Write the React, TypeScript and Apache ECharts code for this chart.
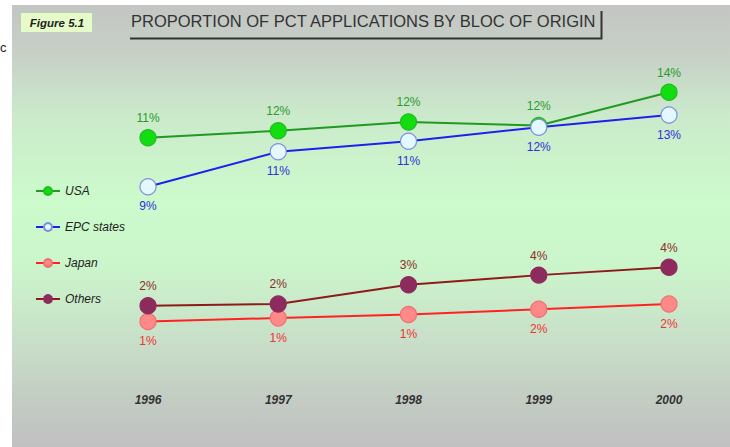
import React, { useEffect, useRef } from "react";
import * as echarts from "echarts";

const years = ["1996", "1997", "1998", "1999", "2000"];
const usa = [11.4, 11.8, 12.3, 12.1, 14.0];
const epc = [8.6, 10.6, 11.2, 12.0, 12.7];
const japan = [0.9, 1.1, 1.3, 1.6, 1.9];
const others = [1.8, 1.9, 3.0, 3.55, 4.0];

const titleText = "PROPORTION OF PCT APPLICATIONS BY BLOC OF ORIGIN";
const figureText = "Figure 5.1";

const pct = (p: any) => Math.round(p.value) + "%";

export default function App() {
  const ref = useRef<HTMLDivElement>(null);
  useEffect(() => {
    document.body.style.margin = "0";
    const chart = echarts.init(ref.current!, null, { renderer: "svg" });
    const mk = (
      name: string,
      data: number[],
      line: string,
      fill: string,
      border: string,
      labelColor: string,
      pos: "top" | "bottom"
    ) => ({
      name,
      type: "line",
      data,
      symbol: "circle",
      symbolSize: 16,
      lineStyle: { color: line, width: 2 },
      itemStyle: { color: fill, borderColor: border, borderWidth: 1.2 },
      label: {
        show: true,
        position: pos,
        distance: 5,
        formatter: pct,
        color: labelColor,
        fontSize: 12,
        fontFamily: "Liberation Sans, Arial, sans-serif",
      },
      emphasis: { disabled: true },
    });
    chart.setOption({
      animation: false,
      backgroundColor: "#ffffff",
      graphic: [
        {
          type: "rect",
          shape: { x: 12, y: 5, width: 718, height: 442 },
          z: -10,
          style: {
            fill: new echarts.graphic.LinearGradient(0, 0, 0, 1, [
              { offset: 0, color: "#c3c6c3" },
              { offset: 0.1, color: "#c6cec6" },
              { offset: 0.25, color: "#cbeacb" },
              { offset: 0.45, color: "#ccfbcc" },
              { offset: 0.6, color: "#cbf4cb" },
              { offset: 0.78, color: "#c8dcc8" },
              { offset: 0.9, color: "#c3cbc3" },
              { offset: 1, color: "#c0c0c0" },
            ]),
          },
        },
        {
          type: "text",
          x: 0,
          y: 41,
          style: { text: "c", fontSize: 13, fill: "#222", fontFamily: "Liberation Sans, Arial, sans-serif" },
        },
        {
          type: "rect",
          shape: { x: 21, y: 13, width: 71, height: 19 },
          style: { fill: "#e6fcc8" },
        },
        {
          type: "text",
          x: 57,
          y: 22.5,
          style: {
            text: figureText,
            align: "center",
            verticalAlign: "middle",
            fontSize: 11.5,
            fontStyle: "italic",
            fontWeight: "bold",
            fill: "#222",
            fontFamily: "Liberation Sans, Arial, sans-serif",
          },
        },
        {
          type: "text",
          x: 131,
          y: 21,
          style: {
            text: titleText,
            verticalAlign: "middle",
            fontSize: 16.5,
            fill: "#333",
            fontFamily: "Liberation Sans, Arial, sans-serif",
          },
        },
        {
          type: "polyline",
          shape: { points: [[130, 38.5], [601.5, 38.5], [601.5, 11]] },
          style: { stroke: "#333", lineWidth: 2, fill: null },
        },
      ],
      legend: {
        orient: "vertical",
        left: 30,
        top: 180,
        itemWidth: 24,
        itemHeight: 10,
        itemGap: 24,
        textStyle: {
          fontSize: 12,
          fontStyle: "italic",
          color: "#222",
          fontFamily: "Liberation Sans, Arial, sans-serif",
        },
        data: ["USA", "EPC states", "Japan", "Others"],
      },
      grid: { left: 148, right: 61, top: 57.25, height: 280 },
      xAxis: {
        type: "category",
        data: years,
        boundaryGap: false,
        axisLine: { show: false },
        axisTick: { show: false },
        splitLine: { show: false },
        axisLabel: {
          margin: 57,
          fontSize: 12,
          fontStyle: "italic",
          fontWeight: "bold",
          color: "#333",
          fontFamily: "Liberation Sans, Arial, sans-serif",
        },
      },
      yAxis: {
        type: "value",
        min: 0,
        max: 16,
        show: false,
        splitLine: { show: false },
      },
      series: [
        mk("USA", usa, "#229922", "#11dd11", "#22bb22", "#2c9a2c", "top"),
        mk("EPC states", epc, "#2020ee", "#e4f8ff", "#7f8fe0", "#3030dd", "bottom"),
        mk("Japan", japan, "#ff2222", "#ff8888", "#f07070", "#ee3333", "bottom"),
        mk("Others", others, "#8e1b1b", "#8e2b5e", "#8e2b5e", "#8e2b2b", "top"),
      ],
    });
    return () => chart.dispose();
  }, []);
  return <div ref={ref} style={{ width: 730, height: 447 }} />;
}
